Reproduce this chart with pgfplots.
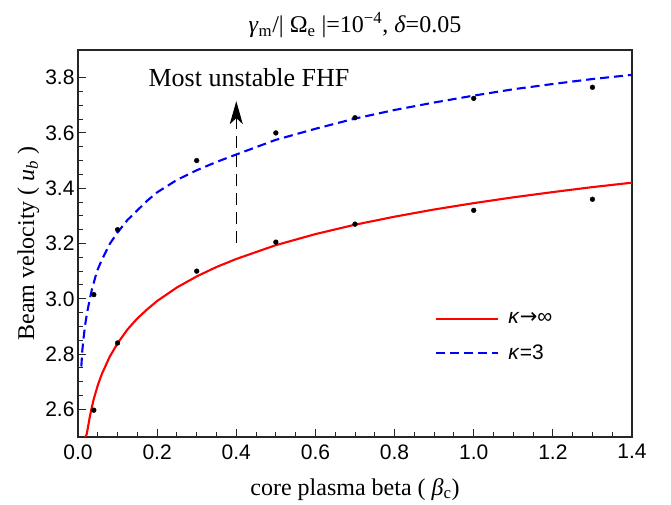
\documentclass[border=0pt]{standalone}
\usepackage{fontspec}
\setmainfont{Liberation Serif}
\setsansfont{Liberation Sans}
\newfontfamily\djv{DejaVu Sans}
\usepackage{pgfplots}
\pgfplotsset{compat=1.18}
\usetikzlibrary{arrows.meta}
\begin{document}
\begin{tikzpicture}
\begin{axis}[
  at={(0,0)}, anchor=south west,
  scale only axis, width=554pt, height=387pt,
  xmin=0, xmax=1.4, ymin=2.5, ymax=3.9,
  xtick={0,0.2,...,1.4}, ytick={2.6,2.8,...,3.8},
  minor x tick num=3, minor y tick num=3,
  xtick pos=bottom, ytick pos=left,
  tick align=inside,
  major tick length=8pt, minor tick length=5pt,
  axis line style={line width=1.2pt, black!85},
  every tick/.style={black!85, line width=1pt},
  xticklabel style={/pgf/number format/fixed, /pgf/number format/fixed zerofill, /pgf/number format/precision=1, yshift=-4pt},
  yticklabel style={/pgf/number format/fixed, /pgf/number format/fixed zerofill, /pgf/number format/precision=1},
  /pgf/number format/assume math mode=true,
  ticklabel style={font=\sffamily\fontsize{21}{24}\selectfont},
  xlabel={core plasma beta ( \textit{β}\textsubscript{c})},
  ylabel={Beam velocity ( \textit{u}\textsubscript{\textit{b}} )},
  label style={font=\fontsize{24}{28}\selectfont},
  xlabel style={yshift=-12pt},
  ylabel style={yshift=-1pt},
  title={\textit{γ}\textsubscript{m}/| Ω\textsubscript{e} |=10\textsuperscript{−4}, \textit{δ}=0.05},
  title style={font=\fontsize{24}{28}\selectfont, yshift=3pt},
  legend style={at={(axis cs:0.895,2.965)}, anchor=north west, draw=none, fill=none,
    font=\sffamily\fontsize{21}{24}\selectfont, row sep=16pt},
  legend cell align=left,
  legend image code/.code={\draw[#1] (0pt,0pt) -- (62pt,0pt);},
  clip=true,
]
\addplot[red, line width=2.1pt] coordinates {
(0.0185,2.50) (0.022,2.51) (0.025,2.534) (0.03,2.574) (0.035,2.608) (0.04,2.638) (0.05,2.687)
(0.06,2.727) (0.08,2.790) (0.1,2.839) (0.125,2.889) (0.15,2.929) (0.175,2.962) (0.2,2.992)
(0.25,3.041) (0.3,3.081) (0.35,3.115) (0.4,3.144) (0.5,3.194) (0.6,3.234) (0.7,3.268)
(0.8,3.297) (0.9,3.323) (1.0,3.346) (1.1,3.367) (1.2,3.386) (1.3,3.404) (1.4,3.420)};
\addlegendentry{\hspace*{7pt}\textit{κ}{\djv →}∞}
\addplot[blue, line width=2.1pt, dash pattern=on 9pt off 5pt] coordinates {
(0.0084,2.755) (0.011,2.815) (0.0144,2.862) (0.018,2.905) (0.023,2.95) (0.03,3.00)
(0.035,3.033) (0.048,3.10) (0.06,3.14) (0.08,3.198) (0.1,3.24) (0.125,3.285) (0.15,3.32)
(0.175,3.355) (0.2,3.385) (0.25,3.43) (0.3,3.465) (0.35,3.495) (0.4,3.522) (0.5,3.575)
(0.6,3.615) (0.7,3.652) (0.8,3.683) (0.9,3.71) (1.0,3.735) (1.1,3.758) (1.2,3.777)
(1.3,3.795) (1.4,3.81)};
\addlegendentry{\hspace*{7pt}\textit{κ}=3}
\addplot[only marks, mark=*, mark size=2.4pt, black, forget plot] coordinates {
(0.04,2.597) (0.1,2.84) (0.3,3.10) (0.5,3.205) (0.7,3.27) (1.0,3.32) (1.3,3.36)};
\addplot[only marks, mark=*, mark size=2.4pt, black, forget plot] coordinates {
(0.04,3.015) (0.1,3.25) (0.3,3.50) (0.5,3.60) (0.7,3.655) (1.0,3.725) (1.3,3.765)};
\addplot[black, line width=1.1pt, dash pattern=on 12pt off 7pt,
  -{Stealth[length=23pt, width=13pt, inset=6pt]}, forget plot] coordinates {
(0.4,3.20) (0.4,3.715)};
\node[font=\fontsize{26}{30}\selectfont] at (axis cs:0.432,3.80) {Most unstable FHF};
\end{axis}
\path (-78pt,-68pt) rectangle (593pt,437pt);
\end{tikzpicture}
\end{document}
